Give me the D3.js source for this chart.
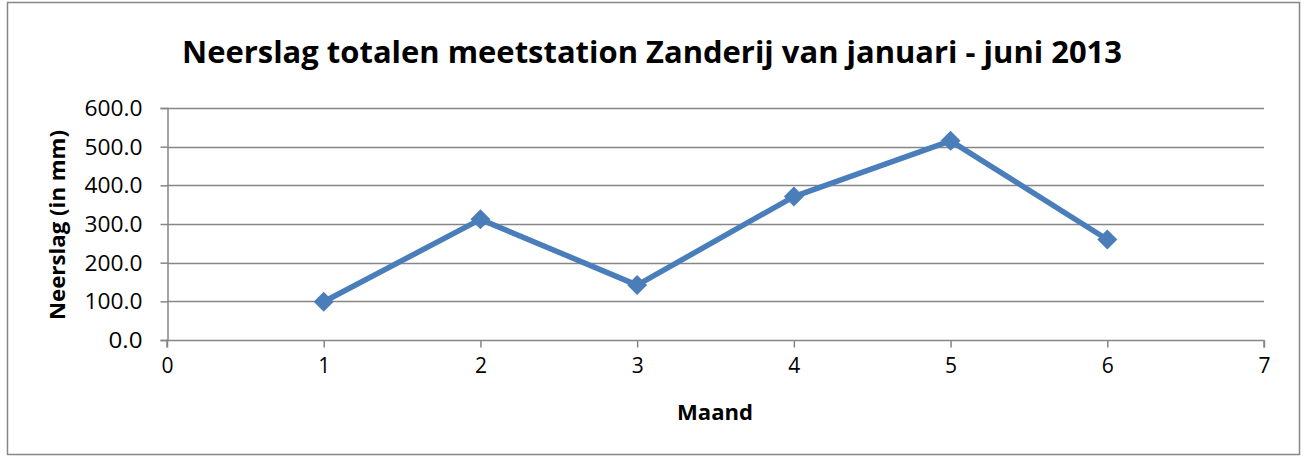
<!DOCTYPE html>
<html>
<head>
<meta charset="utf-8">
<script src="https://cdn.jsdelivr.net/npm/d3@7"></script>
<style>
  body { margin: 0; background: #fff; }
  text { font-family: "Open Sans", "Noto Sans", sans-serif; fill: #000; }
</style>
</head>
<body>
<div class="svg-container"></div>
<script>
// data
var months = [1, 2, 3, 4, 5, 6];
var rainfall = [99, 312, 142, 371, 515, 260];
var xTicks = [0, 1, 2, 3, 4, 5, 6, 7];
var yTicks = [0, 100, 200, 300, 400, 500, 600];

var svgWidth = 1305, svgHeight = 457;
var plot = {left: 167, right: 1264, top: 108, bottom: 340};
var lineColor = "#4a7ebb";
var gridColor = "#868686";

var svg = d3.select(".svg-container").append("svg")
  .attr("width", svgWidth)
  .attr("height", svgHeight);

// chart border
svg.append("rect")
  .attr("x", 7.5).attr("y", 2.5)
  .attr("width", 1292).attr("height", 452)
  .attr("fill", "#fff")
  .attr("stroke", gridColor)
  .attr("stroke-width", 1.5);

var x = d3.scaleLinear().domain([0, 7]).range([plot.left, plot.right]);
var y = d3.scaleLinear().domain([0, 600]).range([plot.bottom, plot.top]);

// horizontal gridlines
svg.append("g").selectAll("line").data(yTicks.slice(1)).enter().append("line")
  .attr("x1", plot.left).attr("x2", plot.right)
  .attr("y1", function(d){ return Math.round(y(d)) + 0.5; })
  .attr("y2", function(d){ return Math.round(y(d)) + 0.5; })
  .attr("stroke", gridColor).attr("stroke-width", 1.5);

// y axis
var yAxis = svg.append("g")
  .attr("transform", "translate(" + (plot.left + 0.5) + ",0)")
  .call(d3.axisLeft(y).tickValues(yTicks).tickSize(7).tickPadding(18)
    .tickFormat(d3.format(".1f")));
yAxis.selectAll("line, path").attr("stroke", gridColor).attr("stroke-width", 1.5);
yAxis.selectAll("text")
  .style("font-size", "21px")
  .attr("dy", "0.35em")
  .attr("textLength", 58)
  .attr("lengthAdjust", "spacingAndGlyphs");
// the shorter "0.0" label keeps its own width
yAxis.selectAll("text").filter(function(d){ return d === 0; }).attr("textLength", 34);

// x axis
var xAxis = svg.append("g")
  .attr("transform", "translate(0," + (plot.bottom + 0.5) + ")")
  .call(d3.axisBottom(x).tickValues(xTicks).tickSize(7).tickPadding(11)
    .tickFormat(d3.format("d")));
xAxis.selectAll("line, path").attr("stroke", gridColor).attr("stroke-width", 1.5);
xAxis.select("path").attr("d", "M" + plot.left + ",7V0H" + plot.right + "V7");
xAxis.selectAll("text").style("font-size", "21px");

// series line
var line = d3.line()
  .x(function(d, i){ return x(months[i]); })
  .y(function(d){ return y(d); });

svg.append("path")
  .datum(rainfall)
  .attr("d", line)
  .attr("fill", "none")
  .attr("stroke", lineColor)
  .attr("stroke-width", 5.5)
  .attr("stroke-linejoin", "round");

// diamond markers
svg.append("g").selectAll("path").data(rainfall).enter().append("path")
  .attr("transform", function(d, i){ return "translate(" + x(months[i]) + "," + y(d) + ")"; })
  .attr("d", "M0,-10L10,0L0,10L-10,0Z")
  .attr("fill", lineColor);

// title
svg.append("text")
  .attr("x", 652).attr("y", 63)
  .attr("text-anchor", "middle")
  .attr("textLength", 940)
  .attr("lengthAdjust", "spacingAndGlyphs")
  .style("font-size", "30px")
  .style("font-weight", "bold")
  .text("Neerslag totalen meetstation Zanderij van januari - juni 2013");

// axis titles
svg.append("text")
  .attr("transform", "translate(65,225) rotate(-90)")
  .attr("text-anchor", "middle")
  .attr("textLength", 190)
  .attr("lengthAdjust", "spacingAndGlyphs")
  .style("font-size", "21px")
  .style("font-weight", "bold")
  .text("Neerslag (in mm)");

svg.append("text")
  .attr("x", 715).attr("y", 420)
  .attr("text-anchor", "middle")
  .attr("textLength", 76)
  .attr("lengthAdjust", "spacingAndGlyphs")
  .style("font-size", "21px")
  .style("font-weight", "bold")
  .text("Maand");
</script>
</body>
</html>
